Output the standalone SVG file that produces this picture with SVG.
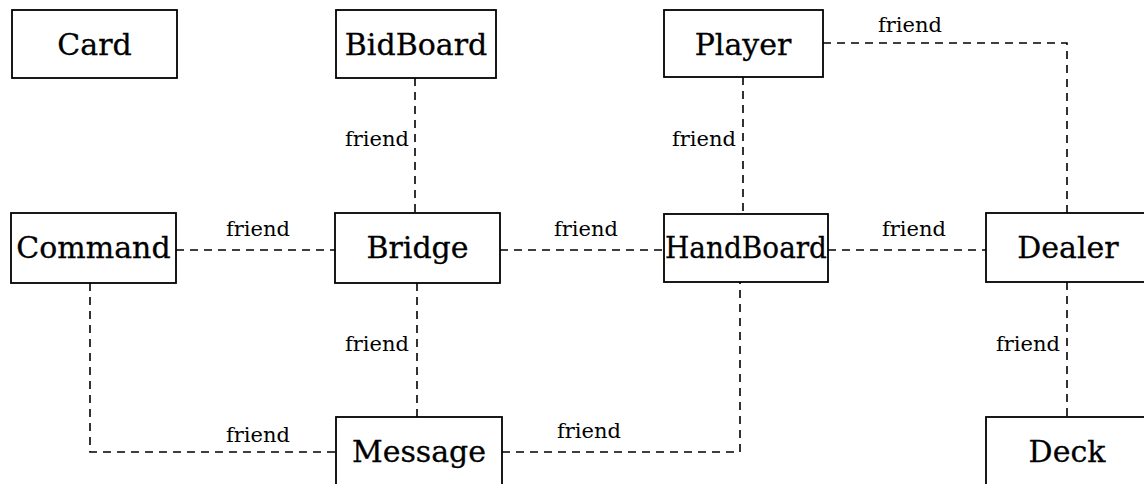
<svg xmlns="http://www.w3.org/2000/svg" width="1144" height="484" viewBox="0 0 1144 484">
  <style>
    .box { fill: #ffffff; stroke: #000000; stroke-width: 1.8; }
    .name { font-family: "DejaVu Serif", "Liberation Serif", serif; font-size: 30px; fill: #000000; stroke: #000000; stroke-width: 0.3; text-anchor: middle; }
    .link { fill: none; stroke: #000000; stroke-width: 1.6; stroke-dasharray: 8 6; }
    .lbl { font-family: "DejaVu Serif", "Liberation Serif", serif; font-size: 21px; fill: #000000; }
    .end { text-anchor: end; }
  </style>
  <rect width="1144" height="484" fill="#ffffff"/>

  <!-- friend relations -->
  <g id="connectors">
    <path class="link" d="M415,78 V213"/>
    <text class="lbl end" x="409" y="146">friend</text>

    <path class="link" d="M743,77 V214"/>
    <text class="lbl end" x="736" y="146">friend</text>

    <path class="link" d="M823,43 H1067 V213"/>
    <text class="lbl" x="878" y="32">friend</text>

    <path class="link" d="M176,250 H335"/>
    <text class="lbl" x="226" y="236">friend</text>

    <path class="link" d="M500,250 H664"/>
    <text class="lbl" x="554" y="236">friend</text>

    <path class="link" d="M828,250 H986"/>
    <text class="lbl" x="882" y="236">friend</text>

    <path class="link" d="M90,283 V452 H336"/>
    <text class="lbl" x="226" y="442">friend</text>

    <path class="link" d="M417,283 V417"/>
    <text class="lbl end" x="409" y="351">friend</text>

    <path class="link" d="M502,452 H740 V282"/>
    <text class="lbl" x="557" y="438">friend</text>

    <path class="link" d="M1067,282 V417"/>
    <text class="lbl end" x="1060" y="351">friend</text>
  </g>

  <!-- classes -->
  <g id="card">
    <rect class="box" x="12" y="10" width="165" height="68"/>
    <text class="name" x="94.5" y="55">Card</text>
  </g>
  <g id="bidboard">
    <rect class="box" x="336" y="10" width="160" height="68"/>
    <text class="name" x="416" y="55">BidBoard</text>
  </g>
  <g id="player">
    <rect class="box" x="664" y="10" width="159" height="67"/>
    <text class="name" x="743" y="55">Player</text>
  </g>
  <g id="command">
    <rect class="box" x="11" y="213" width="165" height="70"/>
    <text class="name" x="93.5" y="258">Command</text>
  </g>
  <g id="bridge">
    <rect class="box" x="335" y="213" width="165" height="70"/>
    <text class="name" x="417.5" y="258">Bridge</text>
  </g>
  <g id="handboard">
    <rect class="box" x="664" y="214" width="164" height="68"/>
    <text class="name" x="746" y="258" textLength="162" lengthAdjust="spacingAndGlyphs">HandBoard</text>
  </g>
  <g id="dealer">
    <rect class="box" x="986" y="213" width="162" height="69"/>
    <text class="name" x="1068" y="258">Dealer</text>
  </g>
  <g id="message">
    <rect class="box" x="336" y="417" width="166" height="80"/>
    <text class="name" x="419" y="462">Message</text>
  </g>
  <g id="deck">
    <rect class="box" x="986" y="417" width="162" height="80"/>
    <text class="name" x="1067" y="462">Deck</text>
  </g>
</svg>
